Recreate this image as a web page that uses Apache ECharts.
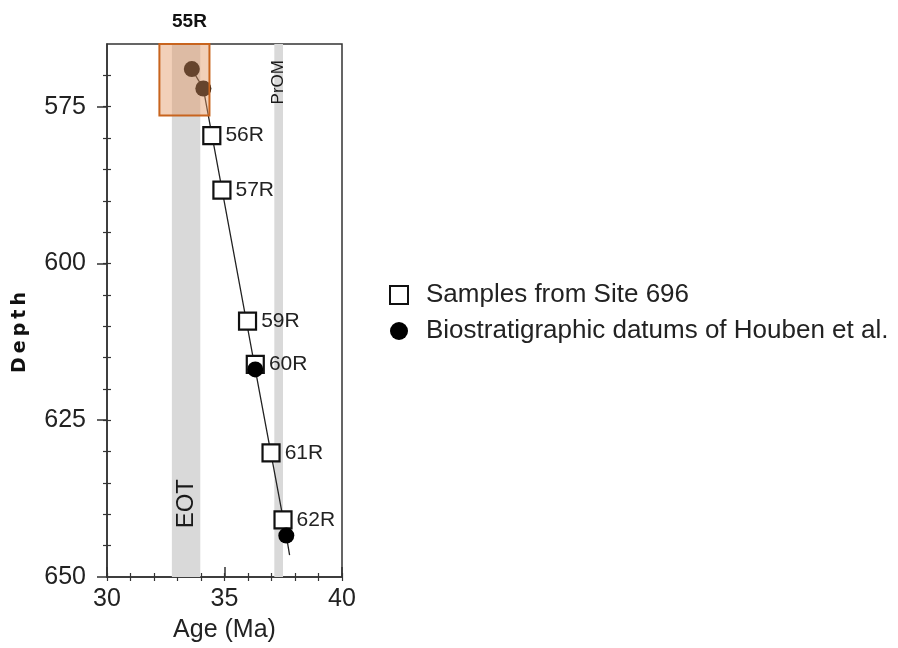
<!DOCTYPE html>
<html lang="en">
<head>
    <meta charset="UTF-8">
    <title>Depth vs Age</title>
    <script src="https://cdn.jsdelivr.net/npm/echarts@6.0.0/dist/echarts.min.js"></script>
</head>
<body style="margin:0;background:#fff;">

    <div id="main" style="width: 898px;height:648px;"></div>

    <script type="text/javascript">

      // samples from site 696: [age, depth] and their names
      var sampleNames = ['56R', '57R', '59R', '60R', '61R', '62R']
      var sampleAge = [34.46, 34.89, 35.98, 36.31, 36.98, 37.49]
      var sampleDepth = [579.6, 588.3, 609.2, 616.1, 630.2, 640.9]

      // biostratigraphic datums (Houben et al.)
      var datumAge = [33.61, 34.10, 36.31, 37.63]
      var datumDepth = [569.0, 572.1, 616.9, 643.4]

      // age-depth line
      var lineAge = [33.61, 34.10, 36.31, 37.63, 37.77]
      var lineDepth = [569.0, 572.1, 616.9, 643.4, 646.5]

      // shaded intervals
      var eotBand = [32.76, 33.97]
      var promBand = [37.12, 37.49]
      var box55R = [32.23, 34.36, 565, 576.4]

      // tick labels
      var ageTicks = [30, 35, 40]
      var ageMinor = [30, 31, 32, 33, 34, 35, 36, 37, 38, 39, 40]
      var depthTicks = [575, 600, 625, 650]
      var depthMinor = [570, 575, 580, 585, 590, 595, 600, 605, 610, 615, 620, 625, 630, 635, 640, 645]

      var zip = function (a, b) { return a.map(function (v, i) { return [v, b[i]] }) }

      var myChart = echarts.init(document.getElementById('main'));

      var font = 'Liberation Sans, Arial, sans-serif'
      var axisCol = '#333'

      // thin extra axes only draw tick marks (both sides of the axis line)
      var tickAxis = function (kind, inside, vals) {
        var a = {
          type: 'value', offset: 0,
          axisLine: { show: false },
          axisTick: { inside: inside, length: 4, customValues: vals, lineStyle: { color: axisCol, width: 1.2 } },
          axisLabel: { show: false },
          splitLine: { show: false }
        }
        if (kind === 'x') { a.min = 30; a.max = 40; a.position = 'bottom' }
        else { a.min = 565; a.max = 650; a.inverse = true; a.position = 'left' }
        return a
      }

      var option = {
        animation: false,
        textStyle: { fontFamily: font },
        grid: {
          left: 107, top: 44, width: 235, height: 533,
          show: true, borderColor: axisCol, borderWidth: 1.5, backgroundColor: 'transparent'
        },
        legend: {
          left: 384, top: 277, orient: 'vertical',
          itemWidth: 18, itemHeight: 18, itemGap: 10,
          textStyle: { fontSize: 26, color: '#222', fontFamily: font, padding: [0, 0, 0, 13] },
          data: ['Samples from Site 696', 'Biostratigraphic datums of Houben et al.']
        },
        xAxis: [
          {
            type: 'value', min: 30, max: 40,
            name: 'Age (Ma)', nameLocation: 'middle', nameGap: 41,
            nameTextStyle: { fontSize: 25, color: '#222' },
            axisLine: { lineStyle: { color: axisCol, width: 1.5 } },
            axisTick: { inside: true, length: 10, customValues: ageTicks, lineStyle: { color: axisCol, width: 1.5 } },
            axisLabel: { fontSize: 25, color: '#222', margin: 10, customValues: ageTicks },
            splitLine: { show: false }
          },
          tickAxis('x', false, ageMinor),
          tickAxis('x', true, ageMinor)
        ],
        yAxis: [
          {
            type: 'value', min: 565, max: 650, inverse: true,
            name: '{s|D}{s|e}{s|p}{s|t}{s|h}', nameLocation: 'middle', nameGap: 77, nameRotate: 90,
            nameTextStyle: {
              fontSize: 19, fontWeight: 'bold',
              padding: [0, 44, 0, 0],
              rich: { s: { fontSize: 19, fontWeight: 'bold', color: '#111', fontFamily: 'DejaVu Sans', padding: [0, 2, 0, 2] } }
            },
            axisLine: { lineStyle: { color: axisCol, width: 1.5 } },
            axisTick: { inside: false, length: 10, customValues: depthTicks, lineStyle: { color: axisCol, width: 1.5 } },
            axisLabel: { fontSize: 25, color: '#222', margin: 21, customValues: depthTicks },
            splitLine: { show: false }
          },
          tickAxis('y', false, depthMinor),
          tickAxis('y', true, depthMinor)
        ],
        series: [
          {
            // grey intervals
            type: 'line', data: [], z: 1, silent: true,
            markArea: {
              silent: true, z: 1,
              itemStyle: { color: '#d9d9d9' },
              data: [
                [{ xAxis: eotBand[0], yAxis: 565 }, { xAxis: eotBand[1], yAxis: 650 }],
                [{ xAxis: promBand[0], yAxis: 565 }, { xAxis: promBand[1], yAxis: 650 }]
              ]
            }
          },
          {
            // interval names
            type: 'scatter', z: 2, silent: true, symbolSize: 0,
            itemStyle: { opacity: 1 },
            data: [
              { value: [(eotBand[0] + eotBand[1]) / 2, 638.3], label: { formatter: 'EOT', fontSize: 24 } },
              { value: [(promBand[0] + promBand[1]) / 2, 571.1], label: { formatter: 'PrOM', fontSize: 17 } }
            ],
            label: { show: true, position: 'inside', rotate: 90, color: '#1a1a1a' }
          },
          {
            type: 'line', z: 3, silent: true,
            data: zip(lineAge, lineDepth),
            showSymbol: false, symbol: 'none',
            lineStyle: { color: '#222', width: 1.3 }
          },
          {
            name: 'Samples from Site 696',
            type: 'scatter', z: 4,
            symbol: 'rect', symbolSize: 17,
            itemStyle: { color: '#fff', borderColor: '#111', borderWidth: 2.2, opacity: 1 },
            data: sampleAge.map(function (a, i) { return { name: sampleNames[i], value: [a, sampleDepth[i]] } }),
            label: { show: true, position: 'right', distance: 4, formatter: '{b}', fontSize: 21, color: '#222' }
          },
          {
            name: 'Biostratigraphic datums of Houben et al.',
            type: 'scatter', z: 5,
            symbol: 'circle', symbolSize: 16,
            itemStyle: { color: '#000', opacity: 1 },
            data: zip(datumAge, datumDepth)
          },
          {
            // 55R overlay box
            type: 'line', data: [], z: 10, silent: true,
            markArea: {
              silent: true, z: 10,
              itemStyle: { color: 'rgba(226,150,100,0.45)', borderColor: '#c8641e', borderWidth: 2 },
              label: { show: true, position: 'top', distance: 12, offset: [5, 0], formatter: '55R', fontSize: 19, fontWeight: 'bold', color: '#111' },
              data: [[{ xAxis: box55R[0], yAxis: box55R[2] }, { xAxis: box55R[1], yAxis: box55R[3] }]]
            }
          }
        ]
      };

      myChart.setOption(option);

    </script>
  </body>
</html>
